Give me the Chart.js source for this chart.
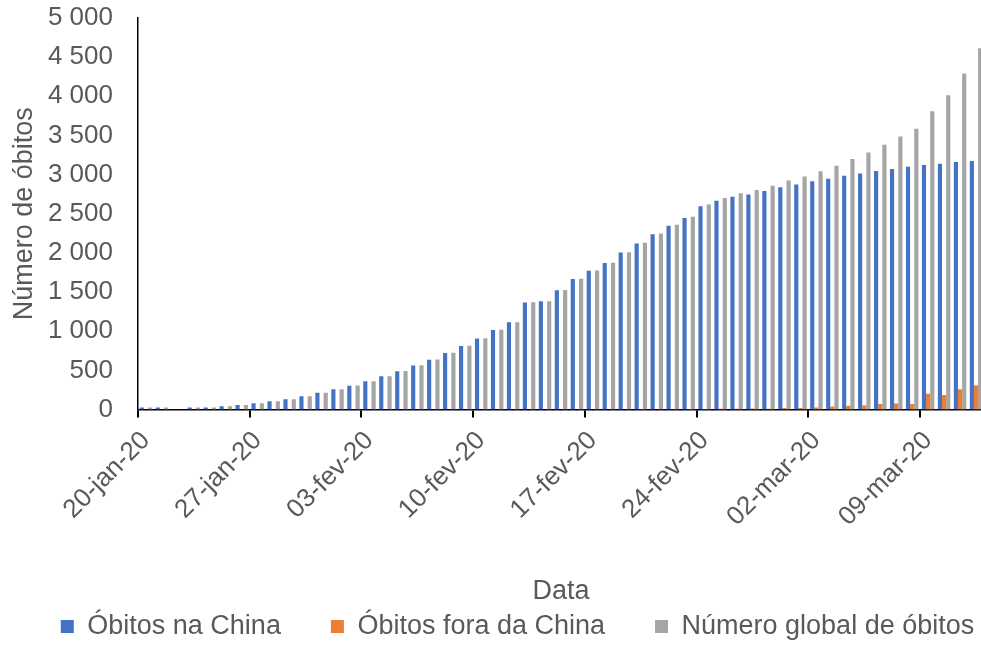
<!DOCTYPE html>
<html lang="pt">
<head>
<meta charset="UTF-8">
<title>Número de óbitos</title>
<script src="https://cdn.jsdelivr.net/npm/chart.js@4.4.1/dist/chart.umd.min.js"></script>
<style>
  html, body { margin: 0; padding: 0; background: #fff; overflow: hidden; }
  #wrap { position: relative; width: 1035px; height: 650px; }
</style>
</head>
<body>
<div id="wrap"><canvas id="chart"></canvas></div>
<script>
const dates = [
  '20-jan-20', '21-jan-20', '22-jan-20', '23-jan-20', '24-jan-20', '25-jan-20', '26-jan-20',
  '27-jan-20', '28-jan-20', '29-jan-20', '30-jan-20', '31-jan-20', '01-fev-20', '02-fev-20',
  '03-fev-20', '04-fev-20', '05-fev-20', '06-fev-20', '07-fev-20', '08-fev-20', '09-fev-20',
  '10-fev-20', '11-fev-20', '12-fev-20', '13-fev-20', '14-fev-20', '15-fev-20', '16-fev-20',
  '17-fev-20', '18-fev-20', '19-fev-20', '20-fev-20', '21-fev-20', '22-fev-20', '23-fev-20',
  '24-fev-20', '25-fev-20', '26-fev-20', '27-fev-20', '28-fev-20', '29-fev-20', '01-mar-20',
  '02-mar-20', '03-mar-20', '04-mar-20', '05-mar-20', '06-mar-20', '07-mar-20', '08-mar-20',
  '09-mar-20', '10-mar-20', '11-mar-20', '12-mar-20'
];
const dateTicks = ['20-jan-20', '27-jan-20', '03-fev-20', '10-fev-20', '17-fev-20', '24-fev-20', '02-mar-20', '09-mar-20'];

// Óbitos na China (acumulado)
const chinaDeaths = [
  6, 6, null, 17, 25, 41, 56,
  80, 106, 132, 170, 213, 259, 304,
  361, 425, 490, 563, 636, 722, 811,
  908, 1016, 1113, 1368, 1381, 1524, 1666,
  1772, 1870, 2006, 2121, 2239, 2348, 2445,
  2595, 2666, 2718, 2747, 2791, 2838, 2873,
  2915, 2946, 2984, 3015, 3045, 3073, 3100,
  3123, 3140, 3162, 3173
];
// Óbitos fora da China (novos por dia)
const outsideDeaths = [
  0, 0, null, 0, 0, 0, 0,
  0, 0, 0, 0, 0, 0, 1,
  0, 0, 1, 0, 0, 0, 0,
  0, 0, 0, 0, 1, 1, 1,
  0, 0, 0, 5, 0, 3, 6,
  6, 11, 10, 13, 10, 19, 18,
  24, 38, 48, 52, 69, 78, 71,
  202, 186, 258, 310
];
// Número global de óbitos (acumulado)
const globalDeaths = [
  6, 6, null, 17, 25, 41, 56,
  80, 106, 132, 170, 213, 259, 305,
  362, 426, 492, 565, 638, 724, 813,
  910, 1018, 1115, 1369, 1383, 1526, 1669,
  1775, 1873, 2009, 2129, 2247, 2359, 2462,
  2618, 2700, 2762, 2804, 2858, 2924, 2977,
  3043, 3112, 3198, 3281, 3380, 3486, 3584,
  3809, 4012, 4292, 4613
];

const TEXT = '#595959';
Chart.defaults.font.family = '"Liberation Sans", Arial, sans-serif';
Chart.defaults.color = TEXT;

function fmt(v) {
  if (v < 1000) return String(v);
  return Math.floor(v / 1000) + ' ' + String(v % 1000).padStart(3, '0');
}

new Chart(document.getElementById('chart'), {
  type: 'bar',
  data: {
    labels: dates,
    datasets: [
      { label: 'Óbitos na China', data: chinaDeaths, backgroundColor: '#4472C4', minBarLength: 2 },
      { label: 'Óbitos fora da China', data: outsideDeaths, backgroundColor: '#ED7D31' },
      { label: 'Número global de óbitos', data: globalDeaths, backgroundColor: '#A5A5A5', minBarLength: 2 }
    ]
  },
  options: {
    responsive: true,
    maintainAspectRatio: false,
    animation: false,
    datasets: { bar: { categoryPercentage: 0.78, barPercentage: 1.0 } },
    layout: { padding: 0 },
    plugins: {
      tooltip: { enabled: false },
      legend: {
        position: 'bottom',
        labels: { boxWidth: 13, boxHeight: 13, padding: 50, color: TEXT, font: { size: 27 } }
      }
    },
    scales: {
      x: {
        offset: true,
        grid: {
          display: true,
          offset: true,
          drawOnChartArea: false,
          drawTicks: true,
          tickLength: 8,
          lineWidth: 2,
          color: (c) => (c.index !== undefined && dateTicks.includes(dates[c.index])) ? '#000' : 'rgba(0,0,0,0)'
        },
        border: { display: true, color: '#000', width: 1.5 },
        ticks: {
          autoSkip: false,
          minRotation: 45,
          maxRotation: 45,
          padding: 8,
          color: TEXT,
          font: { size: 26 },
          callback: (v, i) => dateTicks.includes(dates[i]) ? dates[i] : ''
        },
        title: { display: true, text: 'Data', color: TEXT, font: { size: 27 }, padding: { top: 0, bottom: -45 } },
        afterFit: (scale) => { scale.height = 153.5; scale.paddingRight = 51; }
      },
      y: {
        min: 0,
        max: 5000,
        grid: { display: false, drawTicks: false },
        border: { display: true, color: '#000', width: 1.5 },
        ticks: { stepSize: 500, padding: 25, color: TEXT, font: { size: 26 }, callback: (v) => fmt(v) },
        title: { display: true, text: 'Número de óbitos', color: TEXT, font: { size: 27 }, padding: { top: 8, bottom: 0 } },
        afterFit: (scale) => { scale.width = 138; scale.paddingTop = 18; }
      }
    }
  }
});
</script>
</body>
</html>
